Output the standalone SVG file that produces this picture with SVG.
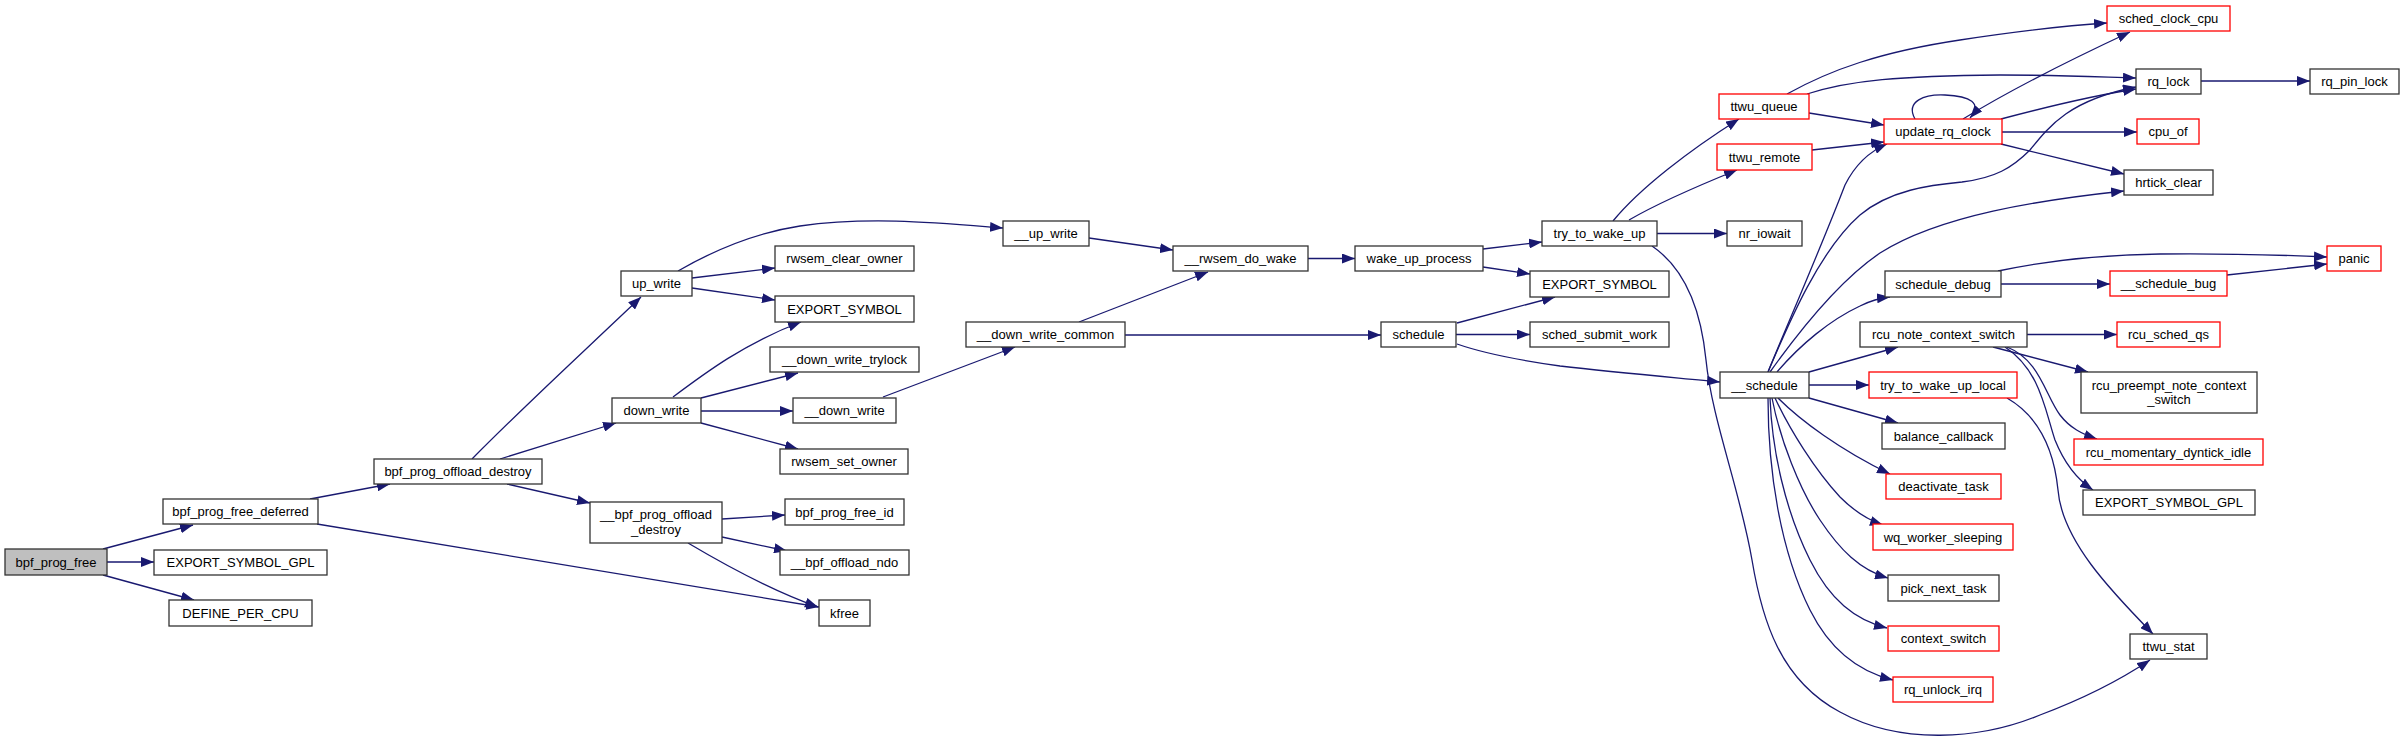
<svg xmlns="http://www.w3.org/2000/svg" width="2404" height="742" viewBox="0 0 2404 742">
<style>
.nd rect{fill:#fff;stroke:#333;stroke-width:1.3}
.rd rect{fill:#fff;stroke:#f00;stroke-width:1.3}
.root rect{fill:#bfbfbf}
text{font-family:"Liberation Sans",Arial,sans-serif;font-size:13px;text-anchor:middle;fill:#000}
.e{fill:none;stroke:#191970;stroke-width:1.3;marker-end:url(#ah)}
</style>
<defs>
<marker id="ah" markerUnits="userSpaceOnUse" viewBox="0 0 13 10" markerWidth="13" markerHeight="10" refX="13" refY="5" orient="auto"><path d="M0,0 L13,5 L0,10 z" fill="#191970"/></marker>
</defs>
<rect width="2404" height="742" fill="#fff"/>
<g id="connectors">
<path class="e" d="M103,549 L193,525"/>
<path class="e" d="M107,562 L154,562"/>
<path class="e" d="M103,575 L194,600"/>
<path class="e" d="M310,499 L390,484"/>
<path class="e" d="M317,524 L819,607"/>
<path class="e" d="M472,459 C520,410 580,355 641,297"/>
<path class="e" d="M500,459 L616,423"/>
<path class="e" d="M507,484 L590,503"/>
<path class="e" d="M678,271 C716,249 754,233 800,226 C870,216 940,223 1003,228"/>
<path class="e" d="M692,278 L775,268"/>
<path class="e" d="M692,288 L775,300"/>
<path class="e" d="M673,397 C705,373 745,343 801,322"/>
<path class="e" d="M701,398 L798,373"/>
<path class="e" d="M701,411 L793,411"/>
<path class="e" d="M701,423 L798,449"/>
<path class="e" d="M722,519 L785,515"/>
<path class="e" d="M722,537 L787,551"/>
<path class="e" d="M688,543 C720,562 770,590 818,607"/>
<path class="e" d="M883,397 L1015,347"/>
<path class="e" d="M1089,238 L1173,250"/>
<path class="e" d="M1079,322 L1208,272"/>
<path class="e" d="M1125,335 L1381,335"/>
<path class="e" d="M1308,258.5 L1355,258.5"/>
<path class="e" d="M1483,249 L1542,242"/>
<path class="e" d="M1483,267 L1530,274"/>
<path class="e" d="M1457,323 L1555,297"/>
<path class="e" d="M1456,334.5 L1530,334.5"/>
<path class="e" d="M1457,344 C1480,352 1510,359 1560,366 C1620,373 1680,378 1720,382"/>
<path class="e" d="M1613,221 C1640,188 1690,150 1739,119"/>
<path class="e" d="M1629,220 C1660,202 1700,185 1737,170"/>
<path class="e" d="M1657,233.5 L1727,233.5"/>
<path class="e" d="M1652,246 C1680,265 1700,300 1706,360 C1712,420 1740,490 1752,560 C1762,620 1780,680 1840,712 C1900,745 1980,740 2040,715 C2080,700 2120,680 2150,660"/>
<path class="e" d="M1787,94 C1830,70 1880,52 1960,40 C2020,31 2060,26 2107,23"/>
<path class="e" d="M1807,94 C1850,80 1900,76 2000,75 C2060,75 2100,77 2136,78"/>
<path class="e" d="M1809,113 L1884,125"/>
<path class="e" d="M1812,150 L1884,142"/>
<path class="e" d="M1915,119 C1905,101 1925,94 1945,95 C1970,96 1983,103 1970,118"/>
<path class="e" d="M1963,119 C2010,90 2070,60 2130,32"/>
<path class="e" d="M2001,119 C2050,106 2090,96 2136,89"/>
<path class="e" d="M2002,132 L2137,132"/>
<path class="e" d="M2001,144 L2124,174"/>
<path class="e" d="M2201,81 L2310,81"/>
<path class="e" d="M1768,372 C1785,330 1820,250 1845,185 C1855,165 1868,152 1887,144"/>
<path class="e" d="M1768,372 C1790,320 1820,250 1860,215 C1890,190 1930,185 1962,182 C1995,178 2012,168 2030,150 C2050,125 2070,100 2136,87"/>
<path class="e" d="M1770,372 C1800,330 1840,280 1880,253 C1940,215 2040,200 2124,191"/>
<path class="e" d="M1777,372 C1800,345 1830,320 1860,306 C1870,301 1880,298 1890,297"/>
<path class="e" d="M1809,372 L1898,347"/>
<path class="e" d="M1809,385 L1869,385"/>
<path class="e" d="M1809,398 L1898,423"/>
<path class="e" d="M1778,398 C1800,420 1840,450 1890,474"/>
<path class="e" d="M1775,398 C1790,430 1815,470 1840,497 C1855,512 1868,520 1883,525"/>
<path class="e" d="M1772,398 C1780,440 1800,490 1820,520 C1840,550 1860,570 1888,578"/>
<path class="e" d="M1770,398 C1772,450 1785,510 1810,560 C1830,600 1855,620 1887,628"/>
<path class="e" d="M1768,398 C1768,470 1780,550 1810,610 C1830,650 1860,672 1893,680"/>
<path class="e" d="M2027,334.5 L2117,334.5"/>
<path class="e" d="M1993,347 L2088,372"/>
<path class="e" d="M2007,347 C2040,360 2045,395 2060,415 C2070,428 2082,434 2097,439"/>
<path class="e" d="M2005,347 C2040,370 2045,410 2055,440 C2065,465 2078,480 2093,490"/>
<path class="e" d="M2007,398 C2045,420 2055,460 2058,490 C2062,540 2110,590 2153,634"/>
<path class="e" d="M1998,271 C2040,262 2090,255 2160,254 C2230,253 2280,255 2327,257"/>
<path class="e" d="M2001,284 L2110,284"/>
<path class="e" d="M2227,275 L2327,264"/>
</g>
<g id="n1" class="nd root"><rect x="5" y="549" width="102" height="26"/><text x="56" y="566.5">bpf_prog_free</text></g>
<g id="n2" class="nd"><rect x="163" y="499" width="155" height="25"/><text x="240.5" y="516">bpf_prog_free_deferred</text></g>
<g id="n3" class="nd"><rect x="154" y="550" width="173" height="25"/><text x="240.5" y="567">EXPORT_SYMBOL_GPL</text></g>
<g id="n4" class="nd"><rect x="169" y="600" width="143" height="26"/><text x="240.5" y="617.5">DEFINE_PER_CPU</text></g>
<g id="n5" class="nd"><rect x="374" y="459" width="168" height="25"/><text x="458" y="476">bpf_prog_offload_destroy</text></g>
<g id="n6" class="nd"><rect x="819" y="600" width="51" height="26"/><text x="844.5" y="617.5">kfree</text></g>
<g id="n7" class="nd"><rect x="621" y="271" width="71" height="25"/><text x="656.5" y="288">up_write</text></g>
<g id="n8" class="nd"><rect x="612" y="398" width="89" height="25"/><text x="656.5" y="415">down_write</text></g>
<g id="n9" class="nd"><rect x="590" y="502" width="132" height="41"/><text x="656" y="519">__bpf_prog_offload</text><text x="656" y="533.5">_destroy</text></g>
<g id="n10" class="nd"><rect x="775" y="246" width="139" height="25"/><text x="844.5" y="263">rwsem_clear_owner</text></g>
<g id="n11" class="nd"><rect x="775" y="296" width="139" height="26"/><text x="844.5" y="313.5">EXPORT_SYMBOL</text></g>
<g id="n12" class="nd"><rect x="770" y="347" width="149" height="25"/><text x="844.5" y="364">__down_write_trylock</text></g>
<g id="n13" class="nd"><rect x="793" y="398" width="103" height="25"/><text x="844.5" y="415">__down_write</text></g>
<g id="n14" class="nd"><rect x="780" y="449" width="128" height="25"/><text x="844" y="466">rwsem_set_owner</text></g>
<g id="n15" class="nd"><rect x="785" y="499" width="119" height="26"/><text x="844.5" y="516.5">bpf_prog_free_id</text></g>
<g id="n16" class="nd"><rect x="780" y="550" width="129" height="25"/><text x="844.5" y="567">__bpf_offload_ndo</text></g>
<g id="n17" class="nd"><rect x="1003" y="221" width="86" height="25"/><text x="1046" y="238">__up_write</text></g>
<g id="n18" class="nd"><rect x="966" y="322" width="159" height="25"/><text x="1045.5" y="339">__down_write_common</text></g>
<g id="n19" class="nd"><rect x="1173" y="246" width="135" height="25"/><text x="1240.5" y="263">__rwsem_do_wake</text></g>
<g id="n20" class="nd"><rect x="1355" y="246" width="128" height="25"/><text x="1419" y="263">wake_up_process</text></g>
<g id="n21" class="nd"><rect x="1381" y="322" width="75" height="25"/><text x="1418.5" y="339">schedule</text></g>
<g id="n22" class="nd"><rect x="1542" y="221" width="115" height="25"/><text x="1599.5" y="238">try_to_wake_up</text></g>
<g id="n23" class="nd"><rect x="1530" y="271" width="139" height="26"/><text x="1599.5" y="288.5">EXPORT_SYMBOL</text></g>
<g id="n24" class="nd"><rect x="1530" y="322" width="139" height="25"/><text x="1599.5" y="339">sched_submit_work</text></g>
<g id="n25" class="nd"><rect x="1720" y="372" width="89" height="26"/><text x="1764.5" y="389.5">__schedule</text></g>
<g id="n26" class="rd"><rect x="1719" y="94" width="90" height="25"/><text x="1764" y="111">ttwu_queue</text></g>
<g id="n27" class="rd"><rect x="1717" y="144" width="95" height="26"/><text x="1764.5" y="161.5">ttwu_remote</text></g>
<g id="n28" class="nd"><rect x="1727" y="221" width="75" height="25"/><text x="1764.5" y="238">nr_iowait</text></g>
<g id="n29" class="nd"><rect x="2130" y="634" width="77" height="25"/><text x="2168.5" y="651">ttwu_stat</text></g>
<g id="n30" class="rd"><rect x="1884" y="119" width="118" height="25"/><text x="1943" y="136">update_rq_clock</text></g>
<g id="n31" class="rd"><rect x="2107" y="6" width="123" height="25"/><text x="2168.5" y="23">sched_clock_cpu</text></g>
<g id="n32" class="nd"><rect x="2136" y="69" width="65" height="25"/><text x="2168.5" y="86">rq_lock</text></g>
<g id="n33" class="nd"><rect x="2310" y="69" width="89" height="25"/><text x="2354.5" y="86">rq_pin_lock</text></g>
<g id="n34" class="rd"><rect x="2137" y="119" width="62" height="25"/><text x="2168" y="136">cpu_of</text></g>
<g id="n35" class="nd"><rect x="2124" y="170" width="89" height="25"/><text x="2168.5" y="187">hrtick_clear</text></g>
<g id="n36" class="nd"><rect x="1885" y="271" width="116" height="26"/><text x="1943" y="288.5">schedule_debug</text></g>
<g id="n37" class="rd"><rect x="2110" y="271" width="117" height="25"/><text x="2168.5" y="288">__schedule_bug</text></g>
<g id="n38" class="rd"><rect x="2327" y="246" width="54" height="25"/><text x="2354" y="263">panic</text></g>
<g id="n39" class="nd"><rect x="1860" y="322" width="167" height="25"/><text x="1943.5" y="339">rcu_note_context_switch</text></g>
<g id="n40" class="rd"><rect x="2117" y="322" width="103" height="25"/><text x="2168.5" y="339">rcu_sched_qs</text></g>
<g id="n41" class="nd"><rect x="2081" y="372" width="176" height="41"/><text x="2169" y="389.5">rcu_preempt_note_context</text><text x="2169" y="404">_switch</text></g>
<g id="n42" class="rd"><rect x="2074" y="439" width="189" height="26"/><text x="2168.5" y="456.5">rcu_momentary_dyntick_idle</text></g>
<g id="n43" class="nd"><rect x="2083" y="490" width="172" height="25"/><text x="2169" y="507">EXPORT_SYMBOL_GPL</text></g>
<g id="n44" class="rd"><rect x="1869" y="372" width="148" height="26"/><text x="1943" y="389.5">try_to_wake_up_local</text></g>
<g id="n45" class="nd"><rect x="1882" y="423" width="123" height="26"/><text x="1943.5" y="440.5">balance_callback</text></g>
<g id="n46" class="rd"><rect x="1886" y="474" width="115" height="25"/><text x="1943.5" y="491">deactivate_task</text></g>
<g id="n47" class="rd"><rect x="1873" y="524" width="140" height="26"/><text x="1943" y="541.5">wq_worker_sleeping</text></g>
<g id="n48" class="nd"><rect x="1888" y="575" width="111" height="26"/><text x="1943.5" y="592.5">pick_next_task</text></g>
<g id="n49" class="rd"><rect x="1888" y="626" width="111" height="25"/><text x="1943.5" y="643">context_switch</text></g>
<g id="n50" class="rd"><rect x="1893" y="677" width="100" height="25"/><text x="1943" y="694">rq_unlock_irq</text></g>
</svg>
